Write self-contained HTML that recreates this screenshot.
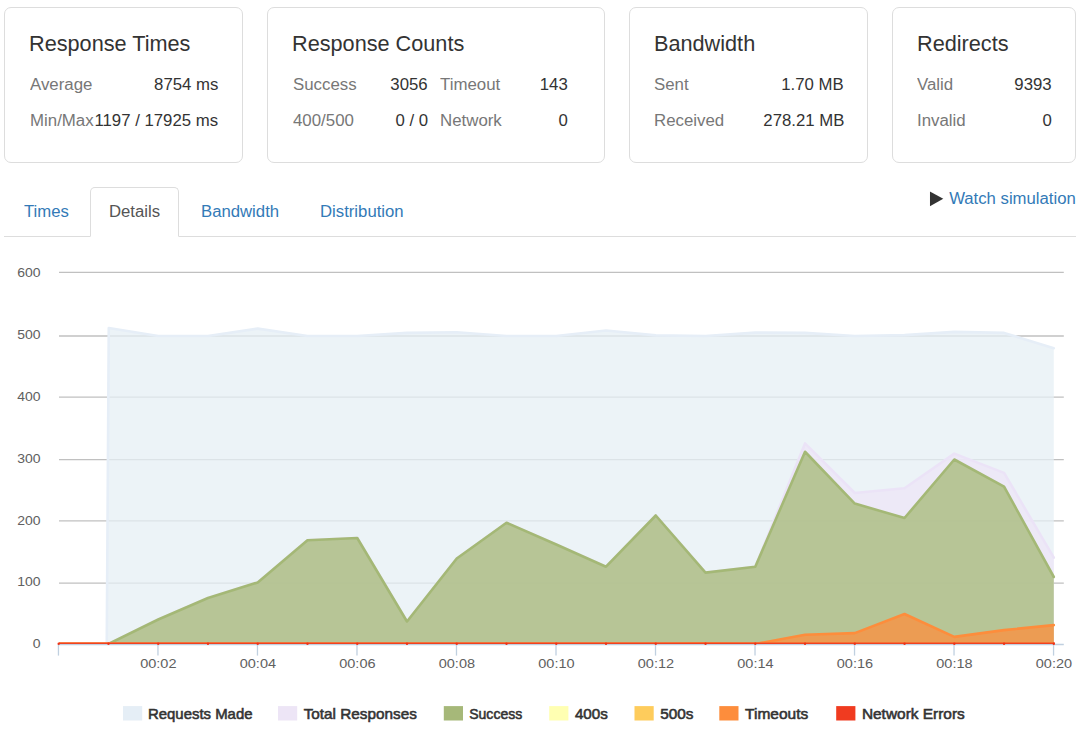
<!DOCTYPE html>
<html><head><meta charset="utf-8">
<style>
*{box-sizing:border-box;margin:0;padding:0}
html,body{width:1086px;height:739px;background:#fff;overflow:hidden}
body{font-family:"Liberation Sans",sans-serif;font-size:16px;color:#333;position:relative}
.card{position:absolute;top:7px;height:156px;border:1px solid #ddd;border-radius:7px;background:#fff}
.card h3{position:absolute;left:24px;top:24px;font-size:22px;font-weight:normal;line-height:24px;color:#333;white-space:nowrap;transform:scaleX(0.985);transform-origin:0 50%}
.l,.v{position:absolute;line-height:20px;white-space:nowrap}
.l{color:#777;transform:scaleX(1.053);transform-origin:0 50%}
.v{color:#333;text-align:right;transform:scaleX(1.047);transform-origin:100% 50%}
.r1{top:67px}.r2{top:103px}
.tabs{position:absolute;left:4px;top:187px;width:1072px;height:50px;border-bottom:1px solid #ddd}
.tab{position:absolute;top:0;height:50px;line-height:49px;color:#337ab7;white-space:nowrap;transform:scaleX(1.045);transform-origin:0 50%}
.tabbox{position:absolute;left:86px;top:0;width:89px;height:50px;border:1px solid #ddd;border-bottom:1px solid #fff;border-radius:5px 5px 0 0;background:#fff}
.tab.act{color:#555}
.watch{position:absolute;right:10px;top:188px;line-height:22px;color:#337ab7;white-space:nowrap;transform:scaleX(1.045);transform-origin:100% 50%}
#chart{position:absolute;left:0;top:239px}
.ax{font-family:"Liberation Sans",sans-serif;font-size:12.5px;fill:#606060}
.lg{font-family:"Liberation Sans",sans-serif;font-size:14.4px;font-weight:normal;fill:#333;stroke:#333;stroke-width:0.55px;paint-order:stroke}
</style></head><body>
<div class="card" style="left:4px;width:239px"><h3>Response Times</h3>
 <span class="l r1" style="left:25px">Average</span><span class="v r1" style="right:24px">8754 ms</span>
 <span class="l r2" style="left:25px">Min/Max</span><span class="v r2" style="right:24px">1197 / 17925 ms</span></div>
<div class="card" style="left:267px;width:338px"><h3>Response Counts</h3>
 <span class="l r1" style="left:25px">Success</span><span class="v r1" style="right:176px">3056</span>
 <span class="l r1" style="left:172px">Timeout</span><span class="v r1" style="right:36px">143</span>
 <span class="l r2" style="left:25px">400/500</span><span class="v r2" style="right:176px">0 / 0</span>
 <span class="l r2" style="left:172px">Network</span><span class="v r2" style="right:36px">0</span></div>
<div class="card" style="left:629px;width:239px"><h3>Bandwidth</h3>
 <span class="l r1" style="left:24px">Sent</span><span class="v r1" style="right:23px">1.70 MB</span>
 <span class="l r2" style="left:24px">Received</span><span class="v r2" style="right:23px">278.21 MB</span></div>
<div class="card" style="left:892px;width:184px"><h3>Redirects</h3>
 <span class="l r1" style="left:24px">Valid</span><span class="v r1" style="right:23px">9393</span>
 <span class="l r2" style="left:24px">Invalid</span><span class="v r2" style="right:23px">0</span></div>
<div class="tabs">
 <span class="tab" style="left:20px">Times</span>
 <span class="tabbox"></span><span class="tab act" style="left:105px">Details</span>
 <span class="tab" style="left:197px">Bandwidth</span>
 <span class="tab" style="left:316px">Distribution</span>
</div>
<div class="watch"><svg width="14" height="16" viewBox="0 0 14 16" style="vertical-align:-2.5px;margin-right:4.6px"><path d="M0.2 0.5 L13 7.85 L0.2 15.2 Z" fill="#333"/></svg>Watch simulation</div>
<svg id="chart" width="1086" height="500" viewBox="0 239 1086 500">
<path d="M59 644.5 H1063.8" stroke="#c0d0e0" stroke-width="1.3" fill="none"/>
<path d="M58.45 644 V655.6" stroke="#c0d0e0" stroke-width="1.3" fill="none"/>
<path d="M157.96 644 V655.6" stroke="#c0d0e0" stroke-width="1.3" fill="none"/>
<path d="M257.47 644 V655.6" stroke="#c0d0e0" stroke-width="1.3" fill="none"/>
<path d="M356.98 644 V655.6" stroke="#c0d0e0" stroke-width="1.3" fill="none"/>
<path d="M456.49 644 V655.6" stroke="#c0d0e0" stroke-width="1.3" fill="none"/>
<path d="M556.0 644 V655.6" stroke="#c0d0e0" stroke-width="1.3" fill="none"/>
<path d="M655.51 644 V655.6" stroke="#c0d0e0" stroke-width="1.3" fill="none"/>
<path d="M755.02 644 V655.6" stroke="#c0d0e0" stroke-width="1.3" fill="none"/>
<path d="M854.53 644 V655.6" stroke="#c0d0e0" stroke-width="1.3" fill="none"/>
<path d="M954.04 644 V655.6" stroke="#c0d0e0" stroke-width="1.3" fill="none"/>
<path d="M1053.55 644 V655.6" stroke="#c0d0e0" stroke-width="1.3" fill="none"/>
<path d="M59 272.4 H1063.8" stroke="#c0c0c0" stroke-width="1.3" fill="none"/>
<path d="M59 336.0 H1063.8" stroke="#c0c0c0" stroke-width="1.3" fill="none"/>
<path d="M59 397.15 H1063.8" stroke="#c0c0c0" stroke-width="1.3" fill="none"/>
<path d="M59 459.6 H1063.8" stroke="#c0c0c0" stroke-width="1.3" fill="none"/>
<path d="M59 520.85 H1063.8" stroke="#c0c0c0" stroke-width="1.3" fill="none"/>
<path d="M59 583.1 H1063.8" stroke="#c0c0c0" stroke-width="1.3" fill="none"/>
<clipPath id="pc"><rect x="59" y="262" width="1005" height="382"/></clipPath><g clip-path="url(#pc)">
<path d="M106.76 644.0 L108.76 327.99 L158.21 336.0 L207.97 336.0 L257.72 328.61 L307.48 336.0 L357.23 336.0 L406.99 332.92 L456.74 332.3 L506.5 336.0 L556.25 336.0 L606.01 330.46 L655.76 335.38 L705.52 336.0 L755.27 332.61 L805.03 332.92 L854.78 336.0 L904.54 335.08 L954.29 331.87 L1004.05 332.92 L1053.8 348.14 L1053.8 644.0 Z" fill="#e6eff4" fill-opacity="0.75" stroke="none"/>
<path d="M106.76 644.0 L108.76 327.99 L158.21 336.0 L207.97 336.0 L257.72 328.61 L307.48 336.0 L357.23 336.0 L406.99 332.92 L456.74 332.3 L506.5 336.0 L556.25 336.0 L606.01 330.46 L655.76 335.38 L705.52 336.0 L755.27 332.61 L805.03 332.92 L854.78 336.0 L904.54 335.08 L954.29 331.87 L1004.05 332.92 L1053.8 348.14" fill="none" stroke="#e6eef7" stroke-width="2.6" stroke-linejoin="round" stroke-linecap="round"/>
<path d="M108.46 644.0 L108.46 644.0 L158.21 619.5 L207.97 598 L257.72 582.4 L307.48 540.2 L357.23 538.0 L406.99 621.5 L456.74 558.5 L506.5 522.7 L556.25 544.5 L606.01 566.7 L655.76 515.5 L705.52 572.6 L755.27 566.8 L805.03 443.4 L854.78 493 L904.54 488.3 L954.29 453.6 L1004.05 472.9 L1053.8 557.7 L1053.8 644.0 Z" fill="#ede6f7" fill-opacity="0.75" stroke="none"/>
<path d="M108.46 644.0 L158.21 619.5 L207.97 598 L257.72 582.4 L307.48 540.2 L357.23 538.0 L406.99 621.5 L456.74 558.5 L506.5 522.7 L556.25 544.5 L606.01 566.7 L655.76 515.5 L705.52 572.6 L755.27 566.8 L805.03 443.4 L854.78 493 L904.54 488.3 L954.29 453.6 L1004.05 472.9 L1053.8 557.7" fill="none" stroke="#ebe3f7" stroke-width="2.6" stroke-linejoin="round" stroke-linecap="round"/>
<path d="M108.46 644.0 L108.46 644.0 L158.21 619.5 L207.97 598 L257.72 582.4 L307.48 540.2 L357.23 538.0 L406.99 621.5 L456.74 558.5 L506.5 522.7 L556.25 544.5 L606.01 566.7 L655.76 515.5 L705.52 572.6 L755.27 566.8 L805.03 451.75 L854.78 503.6 L904.54 518.0 L954.29 459.5 L1004.05 486.7 L1053.8 577 L1053.8 644.0 Z" fill="#a4b876" fill-opacity="0.75" stroke="none"/>
<path d="M108.46 644.0 L158.21 619.5 L207.97 598 L257.72 582.4 L307.48 540.2 L357.23 538.0 L406.99 621.5 L456.74 558.5 L506.5 522.7 L556.25 544.5 L606.01 566.7 L655.76 515.5 L705.52 572.6 L755.27 566.8 L805.03 451.75 L854.78 503.6 L904.54 518.0 L954.29 459.5 L1004.05 486.7 L1053.8 577" fill="none" stroke="#a4b876" stroke-width="2.6" stroke-linejoin="round" stroke-linecap="round"/>
<path d="M58.7 644.0 L58.7 644.0 L108.46 644.0 L158.21 644.0 L207.97 644.0 L257.72 644.0 L307.48 644.0 L357.23 644.0 L406.99 644.0 L456.74 644.0 L506.5 644.0 L556.25 644.0 L606.01 644.0 L655.76 644.0 L705.52 643.4 L755.27 644.0 L805.03 634.75 L854.78 633.1 L904.54 614 L954.29 636.9 L1004.05 630.1 L1053.8 625.1 L1053.8 644.0 Z" fill="#fd8d3c" fill-opacity="0.75" stroke="none"/>
<path d="M58.7 644.0 L108.46 644.0 L158.21 644.0 L207.97 644.0 L257.72 644.0 L307.48 644.0 L357.23 644.0 L406.99 644.0 L456.74 644.0 L506.5 644.0 L556.25 644.0 L606.01 644.0 L655.76 644.0 L705.52 643.4 L755.27 644.0 L805.03 634.75 L854.78 633.1 L904.54 614 L954.29 636.9 L1004.05 630.1 L1053.8 625.1" fill="none" stroke="#fd8d3c" stroke-width="2.6" stroke-linejoin="round" stroke-linecap="round"/>
<rect x="59" y="642.25" width="995.6" height="1.75" fill="#fd8d3c"/>
<rect x="59" y="642.6" width="995.6" height="1.4" fill="#f04221"/>
</g>
<circle cx="58.7" cy="643.7" r="1.2" fill="#ee3318"/>
<circle cx="108.46" cy="643.7" r="1.2" fill="#ee3318"/>
<circle cx="158.21" cy="643.7" r="1.2" fill="#ee3318"/>
<circle cx="207.97" cy="643.7" r="1.2" fill="#ee3318"/>
<circle cx="257.72" cy="643.7" r="1.2" fill="#ee3318"/>
<circle cx="307.48" cy="643.7" r="1.2" fill="#ee3318"/>
<circle cx="357.23" cy="643.7" r="1.2" fill="#ee3318"/>
<circle cx="406.99" cy="643.7" r="1.2" fill="#ee3318"/>
<circle cx="456.74" cy="643.7" r="1.2" fill="#ee3318"/>
<circle cx="506.5" cy="643.7" r="1.2" fill="#ee3318"/>
<circle cx="556.25" cy="643.7" r="1.2" fill="#ee3318"/>
<circle cx="606.01" cy="643.7" r="1.2" fill="#ee3318"/>
<circle cx="655.76" cy="643.7" r="1.2" fill="#ee3318"/>
<circle cx="705.52" cy="643.7" r="1.2" fill="#ee3318"/>
<circle cx="755.27" cy="643.7" r="1.2" fill="#ee3318"/>
<circle cx="805.03" cy="643.7" r="1.2" fill="#ee3318"/>
<circle cx="854.78" cy="643.7" r="1.2" fill="#ee3318"/>
<circle cx="904.54" cy="643.7" r="1.2" fill="#ee3318"/>
<circle cx="954.29" cy="643.7" r="1.2" fill="#ee3318"/>
<circle cx="1004.05" cy="643.7" r="1.2" fill="#ee3318"/>
<circle cx="1053.8" cy="643.7" r="1.2" fill="#ee3318"/>
<text x="17.2" y="277.2" class="ax" textLength="23.3" lengthAdjust="spacingAndGlyphs">600</text>
<text x="17.2" y="339.05" class="ax" textLength="23.3" lengthAdjust="spacingAndGlyphs">500</text>
<text x="17.2" y="400.9" class="ax" textLength="23.3" lengthAdjust="spacingAndGlyphs">400</text>
<text x="17.2" y="462.75" class="ax" textLength="23.3" lengthAdjust="spacingAndGlyphs">300</text>
<text x="17.2" y="524.6" class="ax" textLength="23.3" lengthAdjust="spacingAndGlyphs">200</text>
<text x="17.2" y="586.45" class="ax" textLength="23.3" lengthAdjust="spacingAndGlyphs">100</text>
<text x="32.7" y="648.3" class="ax" textLength="7.8" lengthAdjust="spacingAndGlyphs">0</text>
<text x="140.21" y="667.5" class="ax" textLength="36.3" lengthAdjust="spacingAndGlyphs">00:02</text>
<text x="239.72" y="667.5" class="ax" textLength="36.3" lengthAdjust="spacingAndGlyphs">00:04</text>
<text x="339.23" y="667.5" class="ax" textLength="36.3" lengthAdjust="spacingAndGlyphs">00:06</text>
<text x="438.74" y="667.5" class="ax" textLength="36.3" lengthAdjust="spacingAndGlyphs">00:08</text>
<text x="538.25" y="667.5" class="ax" textLength="36.3" lengthAdjust="spacingAndGlyphs">00:10</text>
<text x="637.76" y="667.5" class="ax" textLength="36.3" lengthAdjust="spacingAndGlyphs">00:12</text>
<text x="737.27" y="667.5" class="ax" textLength="36.3" lengthAdjust="spacingAndGlyphs">00:14</text>
<text x="836.78" y="667.5" class="ax" textLength="36.3" lengthAdjust="spacingAndGlyphs">00:16</text>
<text x="936.29" y="667.5" class="ax" textLength="36.3" lengthAdjust="spacingAndGlyphs">00:18</text>
<text x="1035.8" y="667.5" class="ax" textLength="36.3" lengthAdjust="spacingAndGlyphs">00:20</text>
<rect x="123" y="706.1" width="19.2" height="14.4" fill="#e5eef6"/>
<text x="148" y="718.8" class="lg" textLength="104.5" lengthAdjust="spacingAndGlyphs">Requests Made</text>
<rect x="278" y="706.1" width="19.2" height="14.4" fill="#ede5f6"/>
<text x="303.7" y="718.8" class="lg" textLength="113.1" lengthAdjust="spacingAndGlyphs">Total Responses</text>
<rect x="443.8" y="706.1" width="19.2" height="14.4" fill="#a6b879"/>
<text x="469.2" y="718.8" class="lg" textLength="53.1" lengthAdjust="spacingAndGlyphs">Success</text>
<rect x="549.2" y="706.1" width="19.2" height="14.4" fill="#ffffb2"/>
<text x="574.9" y="718.8" class="lg" textLength="33" lengthAdjust="spacingAndGlyphs">400s</text>
<rect x="634.5" y="706.1" width="19.2" height="14.4" fill="#fecc5c"/>
<text x="660.2" y="718.8" class="lg" textLength="33.3" lengthAdjust="spacingAndGlyphs">500s</text>
<rect x="719.3" y="706.1" width="19.2" height="14.4" fill="#fd8d3c"/>
<text x="745.1" y="718.8" class="lg" textLength="63.2" lengthAdjust="spacingAndGlyphs">Timeouts</text>
<rect x="836.2" y="706.1" width="19.2" height="14.4" fill="#f03b20"/>
<text x="861.9" y="718.8" class="lg" textLength="102.9" lengthAdjust="spacingAndGlyphs">Network Errors</text>
</svg>
</body></html>
